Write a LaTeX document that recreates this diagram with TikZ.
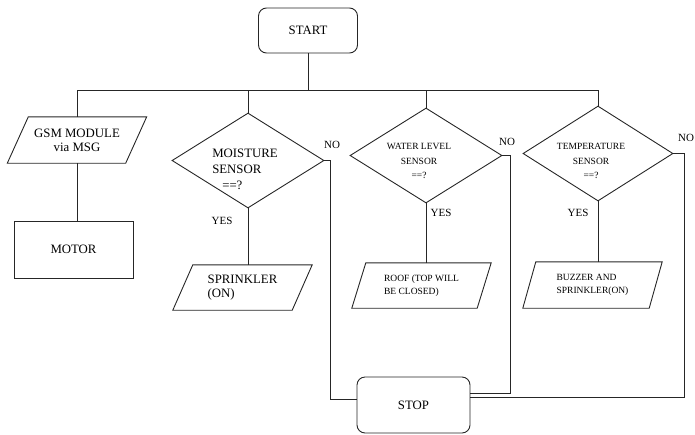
\documentclass[tikz,border=0pt]{standalone}
\usepackage{fontspec}
\setmainfont{Liberation Serif}
\usetikzlibrary{shapes.geometric,calc}
\newcommand\mkparal[2]{%
  \draw[line] (#1.south west) -- ($(#1.north west)+(#2,0)$)
     -- (#1.north east) -- ($(#1.south east)+(-#2,0)$) -- cycle;}
\begin{document}
\begin{tikzpicture}[x=1pt,y=-1pt,
  line/.style={draw=black!85, line width=0.9pt},
  bigtxt/.style={font=\fontsize{12.8}{16}\selectfont},
  smalltxt/.style={font=\fontsize{9.5}{14.5}\selectfont},
  lbl/.style={font=\fontsize{11}{13}\selectfont, inner sep=0pt},
  term/.style={line, rounded corners=8pt, inner sep=0pt, bigtxt},
  procbox/.style={line, inner sep=0pt, bigtxt},
  decis/.style={line, diamond, inner sep=0pt},
  paral/.style={inner sep=0pt},
]
\useasboundingbox (0,0) rectangle (695,434);
% terminals
\node[term, minimum width=99pt, minimum height=45pt] (start) at (308,30.5) {START};
\node[term, minimum width=113pt, minimum height=56pt] (stop) at (413.5,405) {STOP};
% GSM branch
\node[paral, bigtxt, align=center, minimum width=139pt, minimum height=46pt] (gsm) at (77,140) {GSM MODULE\\[-2pt]via MSG};
\mkparal{gsm}{21}
\node[procbox, minimum width=119pt, minimum height=57pt] (motor) at (73.5,249.5) {MOTOR};
% decisions
\node[decis, minimum width=152pt, minimum height=95pt] (moist) at (248,160.5) {};
\node[bigtxt, align=left, inner sep=0pt] (moistt) at (245,169) {MOISTURE\\SENSOR\\\hspace*{10pt}==?};
\node[decis, minimum width=152pt, minimum height=95pt] (water) at (426,155.5) {};
\node[smalltxt, align=center, inner sep=0pt] (watert) at (419,161) {WATER LEVEL\\SENSOR\\==?};
\node[decis, minimum width=150pt, minimum height=95pt] (temp) at (598,153.5) {};
\node[smalltxt, align=center, inner sep=0pt] (tempt) at (591,161) {TEMPERATURE\\SENSOR\\==?};
% outputs
\node[paral, bigtxt, align=left, minimum width=139pt, minimum height=45pt] (sprink) at (242.5,287.5) {SPRINKLER\\[-2pt](ON)};
\mkparal{sprink}{20}
\node[paral, smalltxt, align=left, minimum width=139pt, minimum height=45pt] (roof) at (421.5,285.5) {ROOF (TOP WILL\\[-1pt]BE CLOSED)};
\mkparal{roof}{14}
\node[paral, smalltxt, align=left, minimum width=139pt, minimum height=46pt] (buzz) at (592.5,285) {BUZZER AND\\[-1pt]SPRINKLER(ON)};
\mkparal{buzz}{13}
% bus
\coordinate (busy) at (0,90);
\draw[line] (start.south) -- (start.south |- busy);
\draw[line] (gsm.north) -- (gsm.north |- busy) -- (temp.north |- busy) -- (temp.north);
\draw[line] (moist.north) -- (moist.north |- busy);
\draw[line] (water.north) -- (water.north |- busy);
% yes paths
\draw[line] (gsm.south) -- (gsm.south |- motor.north);
\draw[line] (moist.south) -- (moist.south |- sprink.north);
\draw[line] (water.south) -- (water.south |- roof.north);
\draw[line] (temp.south) -- (temp.south |- buzz.north);
% no paths
\draw[line] (moist.east) -- ++(6,0) |- ([yshift=6pt]stop.west);
\draw[line] (water.east) -- ++(8,0) |- ([yshift=12pt]stop.east);
\draw[line] (temp.east) -- ++(11,0) |- ([yshift=8pt]stop.east);
% labels
\node[lbl] (no1) at (332,145) {NO};
\node[lbl] (no2) at (507,142) {NO};
\node[lbl] (no3) at (686,138) {NO};
\node[lbl] (yes1) at (222,221) {YES};
\node[lbl] (yes2) at (441,213) {YES};
\node[lbl] (yes3) at (578,213) {YES};
\end{tikzpicture}
\end{document}
